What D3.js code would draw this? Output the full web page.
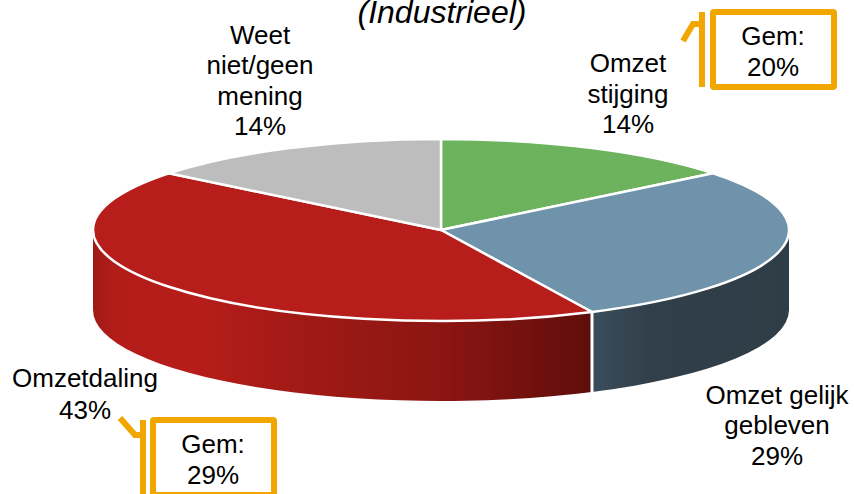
<!DOCTYPE html>
<html>
<head>
<meta charset="utf-8">
<script src="https://cdn.jsdelivr.net/npm/d3@7"></script>
<style>
  html, body { margin: 0; padding: 0; background: #fff; overflow: hidden; }
  text { font-family: "Liberation Sans", Arial, sans-serif; fill: #000; text-anchor: middle; }
</style>
</head>
<body>
<div id="chart"></div>
<script>
// Data
const categories = ["Omzet stijging", "Omzet gelijk gebleven", "Omzetdaling", "Weet niet/geen mening"];
const values = [14.3, 28.6, 42.9, 14.3];
const topColors = ["#6db25d", "#6f93ab", "#b71d1a", "#bdbdbd"];

const labelLines = [
    ["Omzet", "stijging", "14%"],
    ["Omzet gelijk", "gebleven", "29%"],
    ["Omzetdaling", "43%"],
    ["Weet", "niet/geen", "mening", "14%"]
];
const averages = ["20%", "29%"];

// Layout
const width = 854, height = 494;
const cx = 441, cy = 230, rx = 348, ry = 91, depth = 80;
const labelPos = [[628, 72], [777, 403.5], [85, 387], [260, 43.5]];
const labelLineHeight = [30.6, 30.6, 32, 30.6];
const calloutPos = [
    { x: 710, y: 9, h: 81, barX: 699, barY: 12, barH: 75, leader: [[683, 41], [693, 24], [699, 24]] },
    { x: 150, y: 417, h: 81, barX: 140, barY: 420, barH: 75, leader: [[120, 418], [135, 435], [140, 435]] }
];

const svg = d3.select("#chart").append("svg")
    .attr("width", width)
    .attr("height", height);

const defs = svg.append("defs");

// Side gradients
const redGrad = defs.append("linearGradient").attr("id", "wallRed");
[[0, "#a01a17"], [0.04, "#b21c19"], [0.2, "#b71d1a"], [0.33, "#aa1b17"], [0.42, "#a01a16"], [0.7, "#8c1512"], [1, "#5f0e0b"]].forEach(s => {
    redGrad.append("stop").attr("offset", s[0]).attr("stop-color", s[1]);
});
const blueGrad = defs.append("linearGradient").attr("id", "wallBlue");
[[0, "#3a4d5b"], [0.3, "#313f4a"], [1, "#2f3d47"]].forEach(s => {
    blueGrad.append("stop").attr("offset", s[0]).attr("stop-color", s[1]);
});

// Pie angles, clockwise from the back of the ellipse
const pie = d3.pie().sort(null).value(d => d);
const arcs = pie(values);

const px = a => cx + rx * Math.sin(a);
const py = a => cy - ry * Math.cos(a);

function slicePath(d) {
    const large = d.endAngle - d.startAngle > Math.PI ? 1 : 0;
    return `M${cx},${cy}L${px(d.startAngle)},${py(d.startAngle)}` +
        `A${rx},${ry} 0 ${large} 1 ${px(d.endAngle)},${py(d.endAngle)}Z`;
}

// Outer wall of a slice, only the part facing the viewer
function wallPath(d) {
    const a0 = Math.max(d.startAngle, Math.PI / 2);
    const a1 = Math.min(d.endAngle, Math.PI * 1.5);
    if (a1 <= a0) return null;
    return `M${px(a0)},${py(a0)}A${rx},${ry} 0 0 1 ${px(a1)},${py(a1)}` +
        `L${px(a1)},${py(a1) + depth}A${rx},${ry} 0 0 0 ${px(a0)},${py(a0) + depth}Z`;
}

const wallFill = ["none", "url(#wallBlue)", "url(#wallRed)", "none"];
const frontArcs = arcs.filter(d => wallPath(d));

svg.append("g").selectAll("path")
    .data(frontArcs)
    .join("path")
    .attr("d", wallPath)
    .attr("fill", d => wallFill[d.index]);

// White seam between the two walls
const seam = arcs[1].endAngle;
svg.append("line")
    .attr("x1", px(seam)).attr("y1", py(seam))
    .attr("x2", px(seam)).attr("y2", py(seam) + depth + 1)
    .attr("stroke", "#fff")
    .attr("stroke-width", 3);

svg.append("g").selectAll("path")
    .data(arcs)
    .join("path")
    .attr("d", slicePath)
    .attr("fill", d => topColors[d.index])
    .attr("stroke", "#fff")
    .attr("stroke-width", 2.5)
    .attr("stroke-linejoin", "round");

// Title, cut off by the top of the picture
svg.append("text")
    .attr("x", 442)
    .attr("y", 23)
    .attr("font-size", 32)
    .attr("font-style", "italic")
    .text("(Industrieel)");

// Data labels
labelLines.forEach((lines, i) => {
    const t = svg.append("text")
        .attr("font-size", 26)
        .attr("aria-label", categories[i]);
    lines.forEach((line, j) => {
        t.append("tspan")
            .attr("x", labelPos[i][0])
            .attr("y", labelPos[i][1] + j * labelLineHeight[i])
            .text(line);
    });
});

// Gem: callouts
const orange = "#f2a600";
calloutPos.forEach((c, i) => {
    const g = svg.append("g");
    g.append("rect")
        .attr("x", c.x + 3).attr("y", c.y + 3)
        .attr("width", 121).attr("height", c.h - 6)
        .attr("rx", 1)
        .attr("fill", "#fff")
        .attr("stroke", orange)
        .attr("stroke-width", 6);
    g.append("rect")
        .attr("x", c.barX).attr("y", c.barY)
        .attr("width", 6).attr("height", c.barH)
        .attr("fill", orange);
    g.append("path")
        .attr("d", d3.line()(c.leader))
        .attr("fill", "none")
        .attr("stroke", orange)
        .attr("stroke-width", 6);
    g.append("text")
        .attr("x", c.x + 63).attr("y", c.y + 36)
        .attr("font-size", 26)
        .text("Gem:");
    g.append("text")
        .attr("x", c.x + 63).attr("y", c.y + 67)
        .attr("font-size", 26)
        .text(averages[i]);
});
</script>
</body>
</html>
